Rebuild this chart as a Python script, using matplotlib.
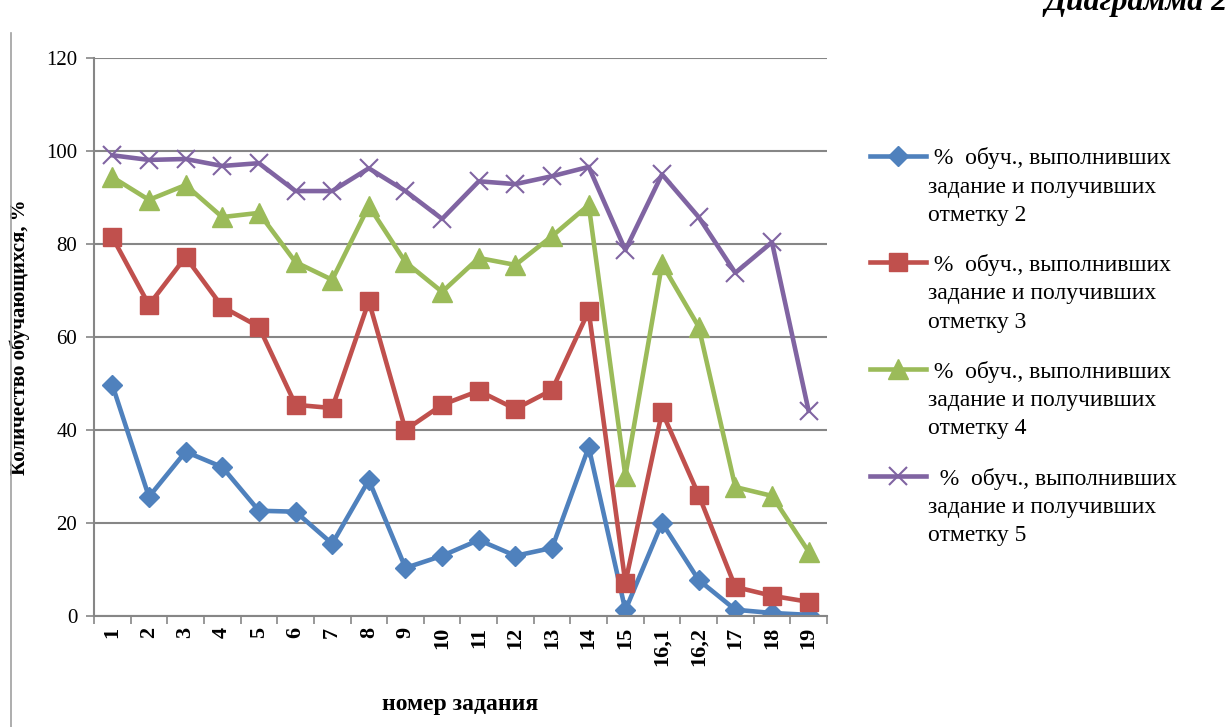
import matplotlib
matplotlib.use("Agg")
import matplotlib.pyplot as plt
from matplotlib.lines import Line2D
import numpy as np

plt.rcParams['font.family'] = ['Liberation Serif', 'DejaVu Serif']

tasks = ['1', '2', '3', '4', '5', '6', '7', '8', '9', '10', '11', '12', '13', '14',
         '15', '16,1', '16,2', '17', '18', '19']
mark2 = [49.7, 25.6, 35.3, 32.0, 22.6, 22.4, 15.5, 29.2, 10.3, 12.9, 16.3, 12.9, 14.6,
         36.3, 1.2, 20.0, 7.7, 1.3, 0.6, 0.2]
mark3 = [81.5, 66.9, 77.2, 66.5, 62.2, 45.4, 44.7, 67.7, 40.0, 45.4, 48.4, 44.5, 48.6,
         65.6, 7.1, 43.9, 26.0, 6.2, 4.3, 3.0]
mark4 = [94.4, 89.5, 92.7, 85.8, 86.7, 76.1, 72.3, 88.2, 76.1, 69.7, 77.0, 75.5, 81.7,
         88.4, 30.1, 75.7, 62.2, 27.7, 25.8, 13.8]
mark5 = [99.1, 98.1, 98.3, 96.8, 97.4, 91.4, 91.4, 96.3, 91.4, 85.4, 93.5, 92.9, 94.6,
         96.6, 78.7, 95.0, 85.8, 73.8, 80.4, 44.1]

labels = [' %  обуч., выполнивших\nзадание и получивших\nотметку 2',
          ' %  обуч., выполнивших\nзадание и получивших\nотметку 3',
          ' %  обуч., выполнивших\nзадание и получивших\nотметку 4',
          '  %  обуч., выполнивших\nзадание и получивших\nотметку 5']

fig = plt.figure(figsize=(12.3, 7.27), dpi=100)
ax = fig.add_axes([0.0764, 0.153, 0.5959, 0.767])

x = np.arange(len(tasks))
ax.plot(x, mark2, color='#4F81BD', lw=3.3, marker='D', ms=10, label=labels[0])
ax.plot(x, mark3, color='#C0504D', lw=3.3, marker='s', ms=13, label=labels[1])
ax.plot(x, mark4, color='#9BBB59', lw=3.3, marker='^', ms=14, label=labels[2])
ax.plot(x, mark5, color='#8064A2', lw=3.3, marker='x', ms=13, mew=1.5, label=labels[3])

ax.set_xlim(-0.5, len(tasks) - 0.5)
ax.set_ylim(0, 120)
ax.set_yticks(range(0, 121, 20))
ax.set_yticklabels([str(v) for v in range(0, 121, 20)], fontsize=15)
ax.set_xticks(x)
ax.set_xticklabels(tasks, rotation=90, fontsize=16, fontweight='bold')
ax.set_xticks(np.arange(-0.5, len(tasks), 1), minor=True)
ax.tick_params(axis='x', which='major', length=0, pad=8)
ax.tick_params(axis='x', which='minor', length=6, color='#868686', width=1.2)
ax.tick_params(axis='y', length=6, color='#868686', width=1.2, pad=6)

ax.grid(axis='y', color='#868686', lw=1.5)
ax.set_axisbelow(True)
for s in ['top', 'right']:
    ax.spines[s].set_visible(False)
for s in ['left', 'bottom']:
    ax.spines[s].set_color('#868686')
    ax.spines[s].set_linewidth(1.5)

ax.set_ylabel('Количество обучающихся, %', fontsize=15, fontweight='bold', labelpad=12)
ax.set_xlabel('номер задания', fontsize=17, fontweight='bold', labelpad=20)

leg = ax.legend(loc='upper left', bbox_to_anchor=(1.03, 0.878), frameon=False,
                fontsize=17, handlelength=2.35, handletextpad=0.1, labelspacing=1.2)
for t in leg.get_texts():
    t.set_linespacing(1.45)
for col in leg._legend_handle_box.get_children():
    for row in col.get_children():
        row.align = 'top'

fig.text(0.849, 0.986, 'Диаграмма 2', fontsize=23, fontweight='bold', style='italic')
fig.add_artist(Line2D([0.009, 0.009], [0.0, 0.955], color='#a0a0a0', lw=1.2,
                      transform=fig.transFigure))

fig.savefig('out.png', dpi=100)
